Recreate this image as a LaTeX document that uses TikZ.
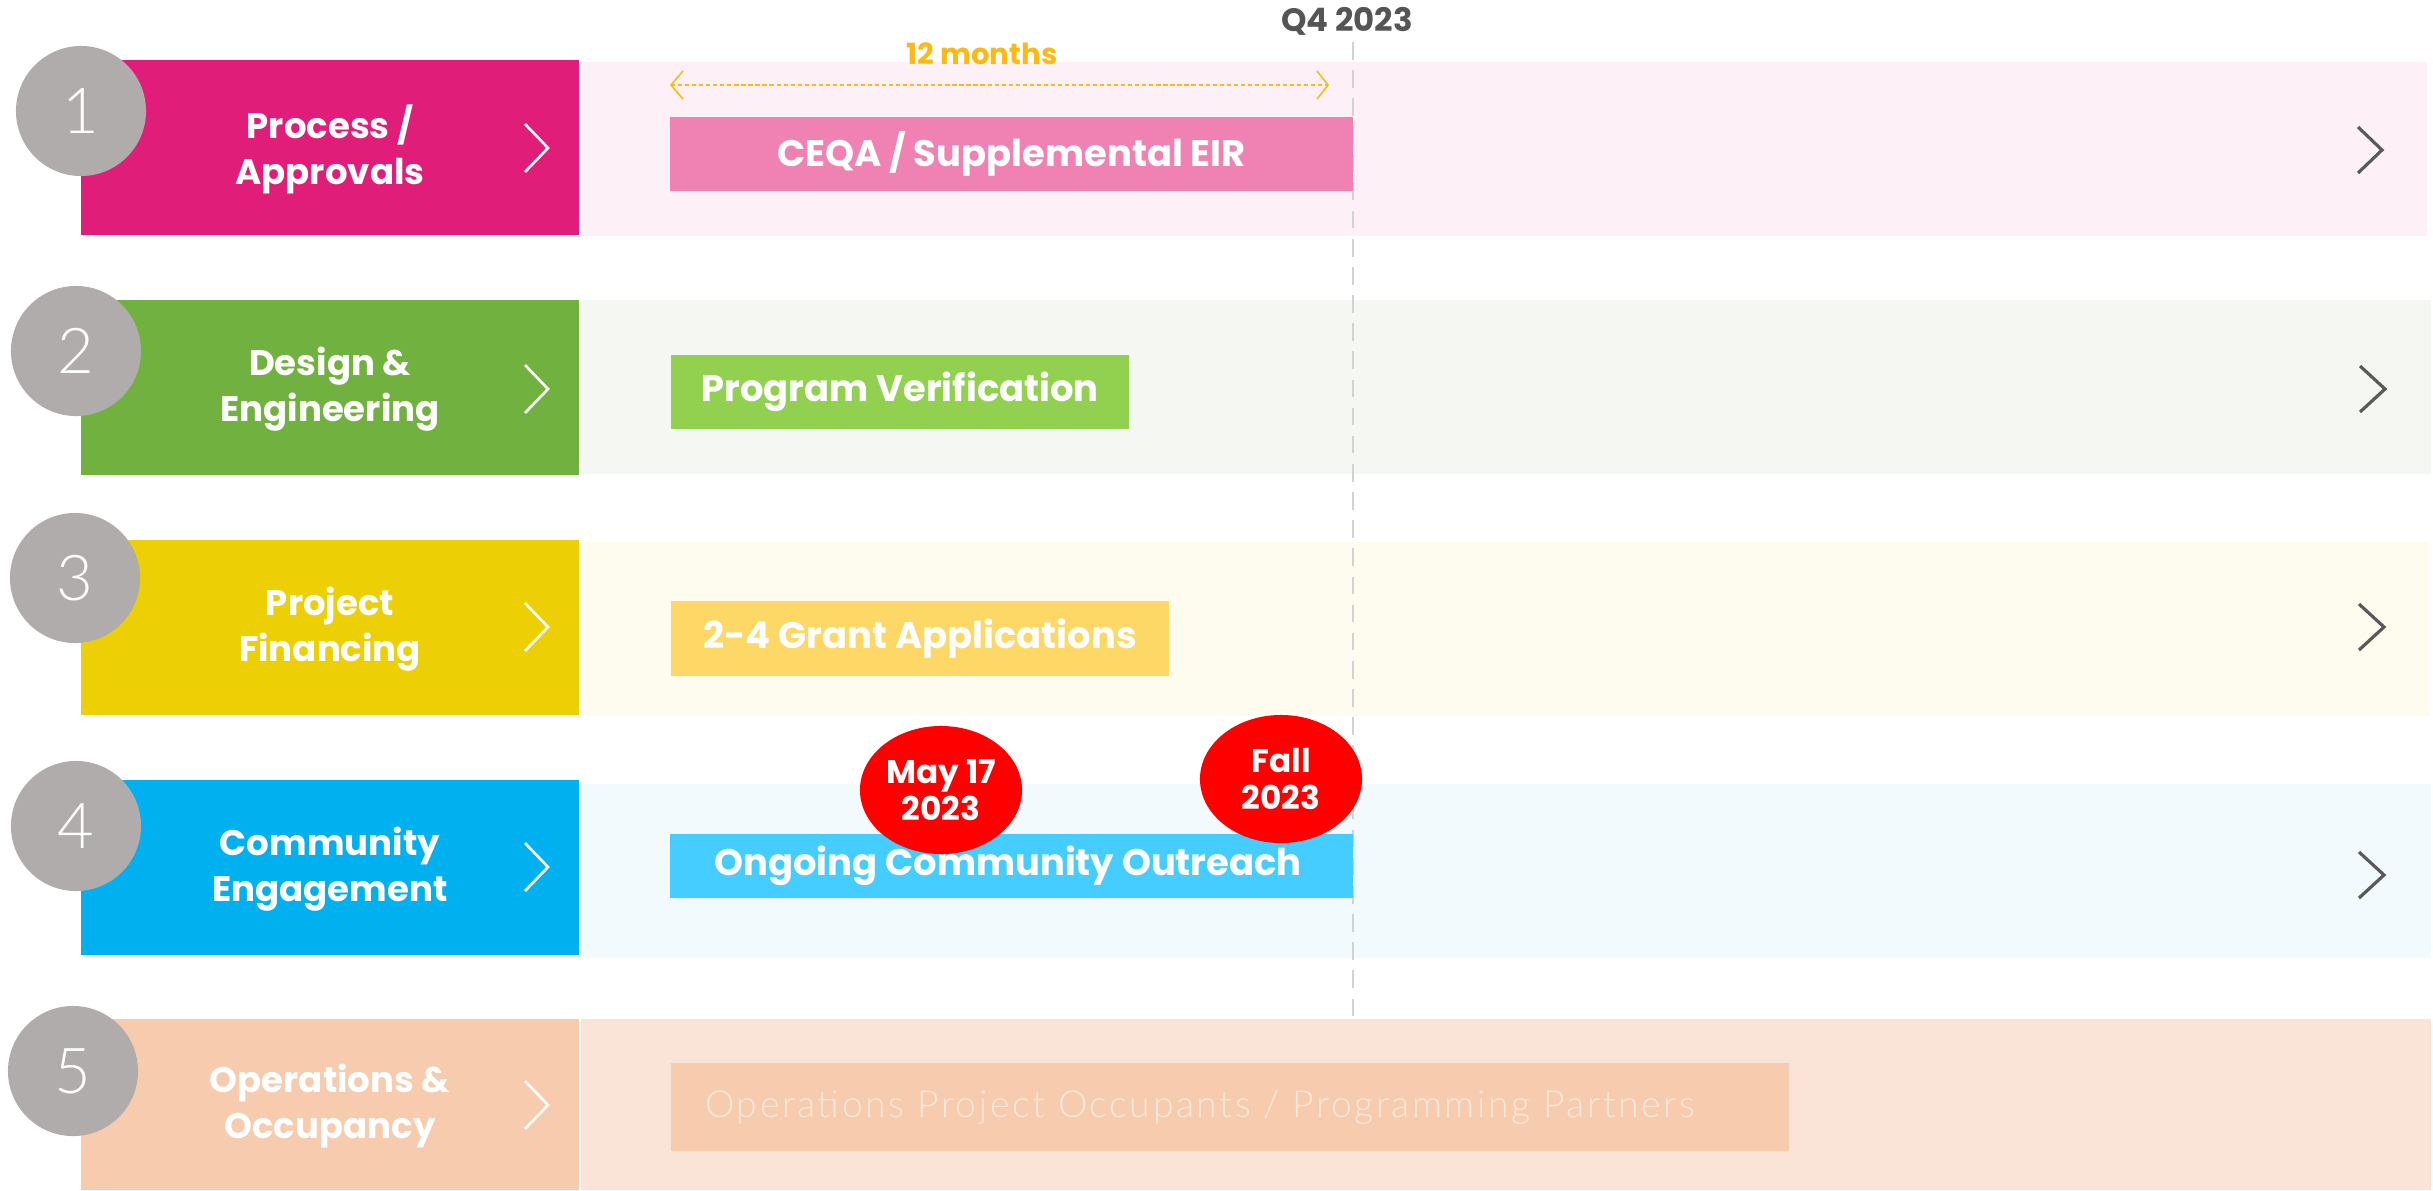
\documentclass[tikz,border=0pt]{standalone}
\usepackage{fontspec}
\setmainfont{Poppins}
\newfontfamily\thinfont{Lato Light}
\newfontfamily\thinwide{Lato Light}[LetterSpace=7]
\usetikzlibrary{shapes.geometric}
\definecolor{circgray}{HTML}{AFACAB}
\definecolor{chevgray}{HTML}{595959}
\definecolor{qgray}{HTML}{555555}
\definecolor{dashgray}{HTML}{D2D2D2}
\definecolor{orangey}{HTML}{FDB913}
\definecolor{mredd}{HTML}{FF0000}
\definecolor{lA}{HTML}{E01D79}\definecolor{bA}{HTML}{FDF0F6}\definecolor{aA}{HTML}{F081B3}
\definecolor{lB}{HTML}{71B13F}\definecolor{bB}{HTML}{F5F8F2}\definecolor{aB}{HTML}{92D050}
\definecolor{lC}{HTML}{ECCF05}\definecolor{bC}{HTML}{FEFBEF}\definecolor{aC}{HTML}{FDD866}
\definecolor{lD}{HTML}{00B0EF}\definecolor{bD}{HTML}{F2FAFE}\definecolor{aD}{HTML}{45CDFF}
\definecolor{lE}{HTML}{F6CBAE}\definecolor{bE}{HTML}{F9E4D7}\definecolor{aE}{HTML}{F6CBAE}
\definecolor{tE}{HTML}{FCE8DC}
\begin{document}
\begin{tikzpicture}[x=0.01cm,y=-0.01cm,
  lbl/.style={text=white, font=\fontsize{10.1}{13.1}\selectfont\bfseries, align=center, inner sep=0},
  bartxt/.style={text=white, font=\fontsize{10.5}{12}\selectfont\bfseries, inner sep=0},
  num/.style={circle, fill=circgray, minimum size=1.3cm, inner sep=0, text=white, font=\fontsize{18}{18}\selectfont\thinfont},
  milestone/.style={ellipse, fill=mredd, minimum width=1.62cm, minimum height=1.28cm, inner sep=0, text=white, align=center, font=\fontsize{9.3}{10.5}\selectfont\bfseries},
  chevw/.style={draw=white, line width=0.75pt},
  chevg/.style={draw=chevgray, line width=0.9pt},
  q4line/.style={draw=dashgray, line width=0.45pt, dash pattern=on 5pt off 3pt},
  spanline/.style={draw=orangey, line width=0.45pt, dash pattern=on 1.2pt off 0.8pt},
  spanhead/.style={draw=orangey, line width=0.45pt}]
\useasboundingbox (0,0) rectangle (2433,1190);
% bands
\fill[bA] (581,62) rectangle (2427,236);
\fill[bB] (581,300) rectangle (2431,474);
\fill[bC] (581,542) rectangle (2429,716);
\fill[bD] (581,784) rectangle (2431,958);
\fill[bE] (581,1019) rectangle (2431,1190);
% left blocks
\fill[lA] (81,60) rectangle (579,235);
\fill[lB] (81,300) rectangle (579,475);
\fill[lC] (81,540) rectangle (579,715);
\fill[lD] (81,780) rectangle (579,955);
\fill[lE] (81,1019) rectangle (579,1190);
% Q4 line
\coordinate (qtop) at (1353,42);
\coordinate (qbot) at (1353,1019);
\draw[q4line] (qtop) -- (qbot);
\node[text=qgray, font=\fontsize{9.2}{10}\selectfont\bfseries, inner sep=0] (q4) at (1347,21) {Q4 2023};
% 12 months span
\node[text=orangey, font=\fontsize{8.3}{9}\selectfont\bfseries, inner sep=0] (months) at (982,54) {12 months};
\coordinate (sL) at (671,85);
\coordinate (sR) at (1328,85);
\draw[spanline] (sL) -- (sR);
\draw[spanhead] (683,71) -- (sL) -- (683,99);
\draw[spanhead] (1317,71) -- (sR) -- (1317,99);
% activity bars
\fill[aA] (670,117) rectangle (1353,191);
\node[bartxt] (ceqa) at (1011.5,154) {CEQA / Supplemental EIR};
\fill[aB] (671,355) rectangle (1129,429);
\node[bartxt] (progv) at (900,392) {Program Verification};
\fill[aC] (671,601) rectangle (1169,676);
\node[bartxt] (grant) at (920,638.5) {2-4 Grant Applications};
\fill[aD] (670,834) rectangle (1353,898);
\node[bartxt] (outreach) at (1008,866) {Ongoing Community Outreach};
\fill[aE] (671,1063) rectangle (1789,1151);
\node[text=tE, font=\fontsize{10.6}{12}\selectfont\thinwide, inner sep=0] (ops) at (1200,1107) {Operations Project Occupants / Programming Partners};
% milestones
\node[milestone] (may) at (941,790) {May 17\\2023};
\node[milestone] (fall) at (1281,779) {Fall\\2023};
% left labels
\node[lbl] (l1) at (330,149) {Process /\\Approvals};
\node[lbl] (l2) at (330,389) {Design \&\\Engineering};
\node[lbl] (l3) at (330,629) {Project\\Financing};
\node[lbl] (l4) at (330,869) {Community\\Engagement};
\node[lbl] (l5) at (330,1106) {Operations \&\\Occupancy};
% white chevrons
\draw[chevw] (525,124) -- (548,148) -- (525,172);
\draw[chevw] (525,365) -- (548,389) -- (525,413);
\draw[chevw] (525,603) -- (548,627) -- (525,651);
\draw[chevw] (525,843) -- (548,867) -- (525,891);
\draw[chevw] (525,1081) -- (548,1105) -- (525,1129);
% grey chevrons
\draw[chevg] (2358,127) -- (2382,150) -- (2358,173);
\draw[chevg] (2360,366) -- (2385,389) -- (2360,412);
\draw[chevg] (2359,604) -- (2384,627) -- (2359,650);
\draw[chevg] (2359,852) -- (2384,875) -- (2359,898);
% number circles
\node[num] (n1) at (81,111) {1};
\node[num] (n2) at (76,351) {2};
\node[num] (n3) at (75,578) {3};
\node[num] (n4) at (76,826) {4};
\node[num] (n5) at (73,1071) {5};
\end{tikzpicture}
\end{document}
